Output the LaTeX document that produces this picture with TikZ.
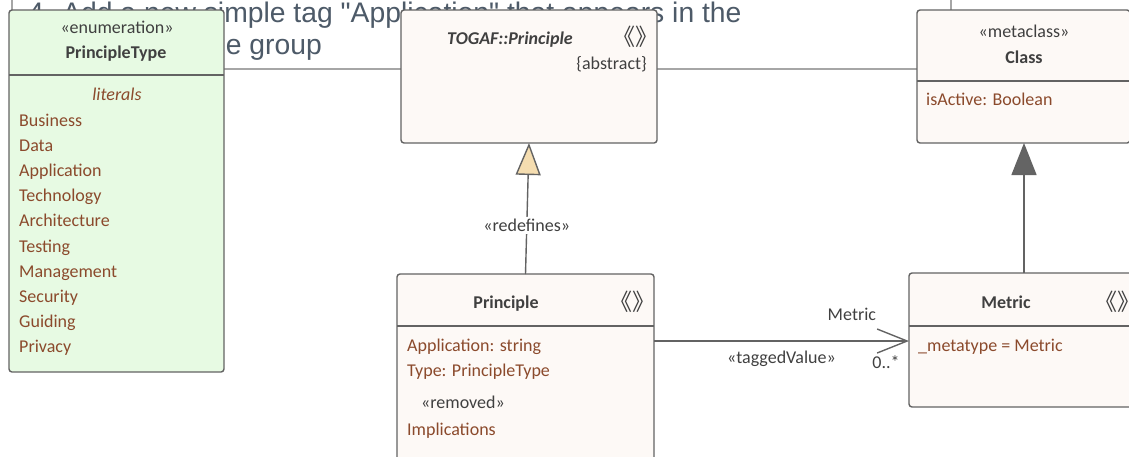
\documentclass[tikz,border=0pt]{standalone}
\usepackage{fontspec}
\setmainfont{Carlito}
\newfontfamily\notefont{Liberation Sans}
\newfontfamily\cjk{Noto Sans CJK SC}
\usetikzlibrary{arrows.meta}
\definecolor{boxline}{RGB}{99,99,99}
\definecolor{ink}{RGB}{64,64,64}
\definecolor{attrbrown}{RGB}{139,74,44}
\definecolor{enumfill}{RGB}{231,250,227}
\definecolor{classfill}{RGB}{253,249,246}
\definecolor{trifill}{RGB}{245,221,176}
\definecolor{darktri}{RGB}{100,100,100}
\definecolor{notegray}{RGB}{166,166,166}
\definecolor{notetext}{RGB}{77,90,104}

\begin{document}
\begin{tikzpicture}[x=1pt, y=-1pt,
    box/.style={draw=boxline, line width=1.4pt, rounded corners=3pt,
      anchor=north west, inner sep=0pt, outer sep=0pt, fill=classfill},
    rule/.style={draw=boxline, line width=1.4pt},
    link/.style={draw=boxline, line width=1.4pt},
    txt/.style={text=ink, inner sep=0pt, font=\fontsize{18}{22}\selectfont},
    cname/.style={txt, font=\fontsize{18}{22}\selectfont\bfseries},
    attr/.style={txt, text=attrbrown},
    icon/.style={txt, font=\fontsize{23}{26}\selectfont\cjk},
    notetxt/.style={text=notetext, inner sep=0pt, anchor=base west,
      font=\fontsize{28.3}{32}\selectfont\notefont}
    ]
\useasboundingbox (0,0) rectangle (1129,456);

% note lying behind the classes
\node[draw=notegray, line width=1.2pt, fill=white, anchor=north west,
  minimum width=939pt, minimum height=110pt, outer sep=0pt] (N) at (12,-41) {};
\node[notetxt] (N1) at (28,22) {4. Add a new simple tag "Application" that appears in the};
\node[notetxt] (N2) at (28,54) {TOGAF Principle group};

% classes
\node[box, fill=enumfill, minimum width=215pt, minimum height=362pt] (PT) at (9,10) {};
\node[box, minimum width=256pt, minimum height=133pt] (T) at (401,10) {};
\node[box, minimum width=213pt, minimum height=133pt] (C) at (917,10) {};
\node[box, minimum width=257pt, minimum height=210pt] (P) at (397,274) {};
\node[box, minimum width=230pt, minimum height=134pt] (M) at (909,273) {};

\draw[rule] (PT.west |- 0,75) -- (PT.east |- 0,75);
\draw[rule] (C.west |- 0,81) -- (C.east |- 0,81);
\draw[rule] (P.west |- 0,326) -- (P.east |- 0,326);
\draw[rule] (M.west |- 0,326) -- (M.east |- 0,326);

% PrincipleType
\node[txt, anchor=base] (PTs) at (117,33) {«enumeration»};
\node[cname, anchor=base] (PTn) at (116,58) {PrincipleType};
\node[attr, anchor=base, font=\fontsize{18}{22}\selectfont\itshape] (PTl) at (117,100) {literals};
\foreach \lit [count=\i from 0] in {Business,Data,Application,Technology,Architecture,
    Testing,Management,Security,Guiding,Privacy}
  \node[attr, anchor=base west] (L\i) at (19,126+25.2*\i) {\lit};

% TOGAF::Principle
\node[cname, anchor=base, font=\fontsize{18}{22}\selectfont\bfseries\itshape] (Tn) at (510,44) {TOGAF::Principle};
\node[icon] (Ti) at (635,37) {《》};
\node[txt, anchor=base east] (Ta) at (647,69) {\{abstract\}};

% Class
\node[txt, anchor=base] (Cs) at (1024,37) {«metaclass»};
\node[cname, anchor=base] (Cn) at (1024,63) {Class};
\node[attr, anchor=base west] (Ca) at (926,105) {isActive: Boolean};

% Principle
\node[cname, anchor=base] (Pn) at (506,308) {Principle};
\node[icon] (Pi) at (632,302) {《》};
\node[attr, anchor=base west] (Pa1) at (407,351) {Application: string};
\node[attr, anchor=base west] (Pa2) at (407,376) {Type: PrincipleType};
\node[txt, anchor=base west] (Pr) at (421,408) {«removed»};
\node[attr, anchor=base west] (Pa3) at (407,435) {Implications};

% Metric
\node[cname, anchor=base] (Mn) at (1006,308) {Metric};
\node[icon] (Mi) at (1117,302) {《》};
\node[attr, anchor=base west] (Ma) at (918,351) {\_metatype = Metric};

% connectors
\coordinate (tv) at (0,341);
\draw[link, -{Triangle[length=32pt,width=25pt,fill=trifill]}] (P.north) --
  node[pos=.37, txt, fill=white, inner sep=2pt] (rd) {«redefines»} (T.south);
\draw[link, -{Triangle[length=32pt,width=25pt,fill=darktri]}] (M.north) -- (M.north |- C.south);
\draw[link, -{Straight Barb[length=30pt,width=24pt]}] (P.east |- tv) --
  node[pos=.5, txt, anchor=base, yshift=-22pt] (tvl) {«taggedValue»}
  node[pos=.776, txt, anchor=base, yshift=21pt] (mr) {Metric}
  node[pos=.91, txt, anchor=base, yshift=-27pt] (ml) {0..*}
  (M.west |- tv);
\end{tikzpicture}
\end{document}
